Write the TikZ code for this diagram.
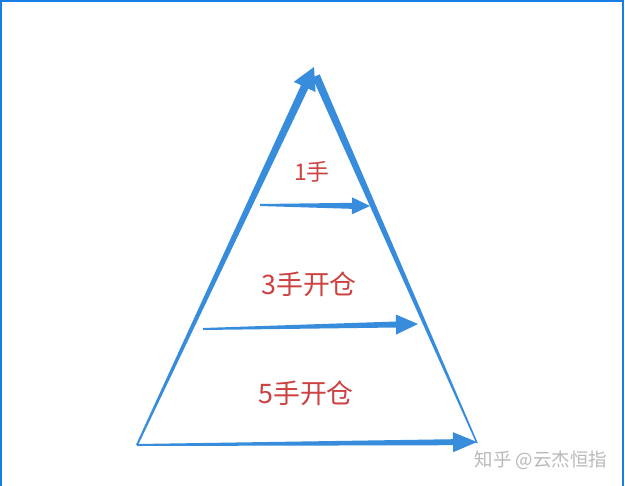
\documentclass[tikz,border=0pt]{standalone}
\usepackage{fontspec}
\newfontfamily\cjk{Noto Sans CJK SC}
\usetikzlibrary{calc,positioning}
\definecolor{pyrblue}{RGB}{55,140,220}
\definecolor{frameblue}{RGB}{25,125,230}
\definecolor{lotred}{RGB}{205,65,65}
\definecolor{markgray}{RGB}{185,185,185}
% tapered arrow: from, to, tail half, neck half, head length, head half
\newcommand{\wedgearrow}[6]{%
  \coordinate (neck) at ($(#2)!#5!(#1)$);
  \fill[pyrblue] ($(#1)!#3!90:(#2)$) -- ($(neck)!#4!90:(#2)$)
    -- ($(neck)!#6!90:(#2)$) -- (#2) -- ($(neck)!#6!-90:(#2)$)
    -- ($(neck)!#4!-90:(#2)$) -- ($(#1)!#3!-90:(#2)$) -- cycle;
}

\begin{document}
\begin{tikzpicture}[x=0.02cm, y=-0.02cm,
    lot/.style={text=lotred, font=\cjk\fontsize{15.3}{18}\selectfont},
    frame/.style={frameblue, line width=0.05cm}]
  \useasboundingbox (0,0) rectangle (625,486);
  \fill[white] (0,0) rectangle (625,486);
  \draw[frame] (1,486) -- (1,1) -- (623,1) -- (623,486);
  % pyramid corners
  \coordinate (baseL) at (137,445);
  \coordinate (apex) at (314,67);
  \coordinate (rtop) at (316,76);
  \coordinate (baseR) at (477,443);
  % arrow ends
  \coordinate (tail1) at (260,205);
  \coordinate (tip1) at (370,206);
  \coordinate (tail3) at (203,329);
  \coordinate (tip3) at (418,324);
  \coordinate (tip5) at (477,442);
  % labels
  \node (lot1) [lot, font=\cjk\fontsize{13}{16}\selectfont] at (312,172) {1手};
  \node (lot3) [lot] at (309,284) {3手开仓};
  \node (lot5) [lot] at (306,393) {5手开仓};
  \node (zhihu) [text=markgray, font=\cjk\fontsize{10.5}{13}\selectfont]
    at (541,460) {知乎 @云杰恒指};
  % Draw sides
  \wedgearrow{baseL}{apex}{0.02cm}{0.08cm}{0.44cm}{0.24cm}
  \fill[pyrblue] ($(rtop)!0.08cm!90:(baseR)$) -- ($(baseR)!0.015cm!-90:(rtop)$)
    -- ($(baseR)!0.015cm!90:(rtop)$) -- ($(rtop)!0.08cm!-90:(baseR)$) -- cycle;
  % Draw arrows
  \wedgearrow{tail1}{tip1}{0.02cm}{0.06cm}{0.36cm}{0.17cm}
  \wedgearrow{tail3}{tip3}{0.02cm}{0.06cm}{0.44cm}{0.2cm}
  \wedgearrow{baseL}{tip5}{0.02cm}{0.06cm}{0.48cm}{0.2cm}
\end{tikzpicture}
\end{document}
